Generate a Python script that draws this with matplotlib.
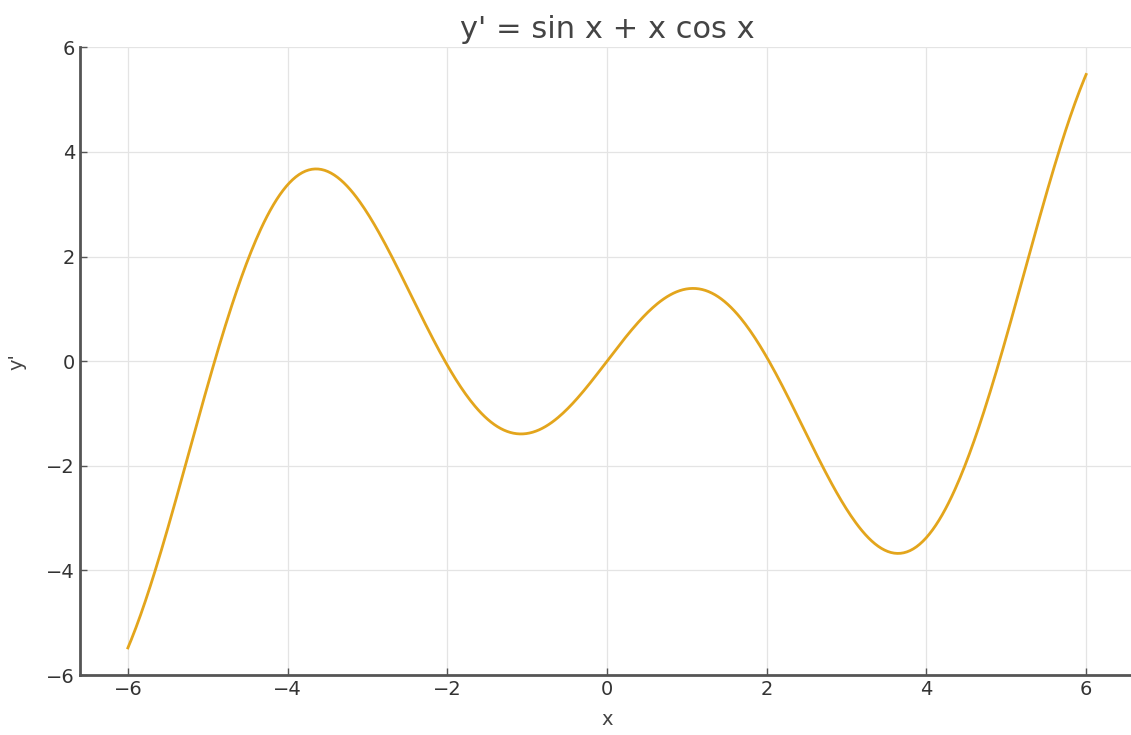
import numpy as np
import matplotlib.pyplot as plt

# Domain and curve definition taken from the title expression
x_min, x_max = -6, 6
n_points = 600
title = "y' = sin x + x cos x"

x = np.linspace(x_min, x_max, n_points)
y = np.sin(x) + x * np.cos(x)

fig = plt.figure(figsize=(11.31, 7.35), dpi=100)
ax = fig.add_axes([0.0707, 0.0816, 0.932, 0.854])

ax.plot(x, y, color='#e3a51c', linewidth=2)

ax.set_xlim(-6.6, 6.6)
ax.set_ylim(-6, 6)
ax.set_xticks([-6, -4, -2, 0, 2, 4, 6])
ax.set_yticks([-6, -4, -2, 0, 2, 4, 6])

ax.grid(True, color='#e4e4e4', linewidth=0.9)
ax.set_axisbelow(True)
for side in ['top', 'right']:
    ax.spines[side].set_visible(False)
for side in ['left', 'bottom']:
    ax.spines[side].set_color('#555555')
    ax.spines[side].set_linewidth(2)

ax.tick_params(direction='in', length=5, width=1, color='#555555',
               labelsize=14, labelcolor='#333333')

ax.set_title(title, fontsize=22, color='#444444', pad=7)
ax.set_xlabel('x', fontsize=14, color='#444444', labelpad=8)
ax.set_ylabel("y'", fontsize=14, color='#444444', labelpad=14)

fig.savefig('out.png', dpi=100)
